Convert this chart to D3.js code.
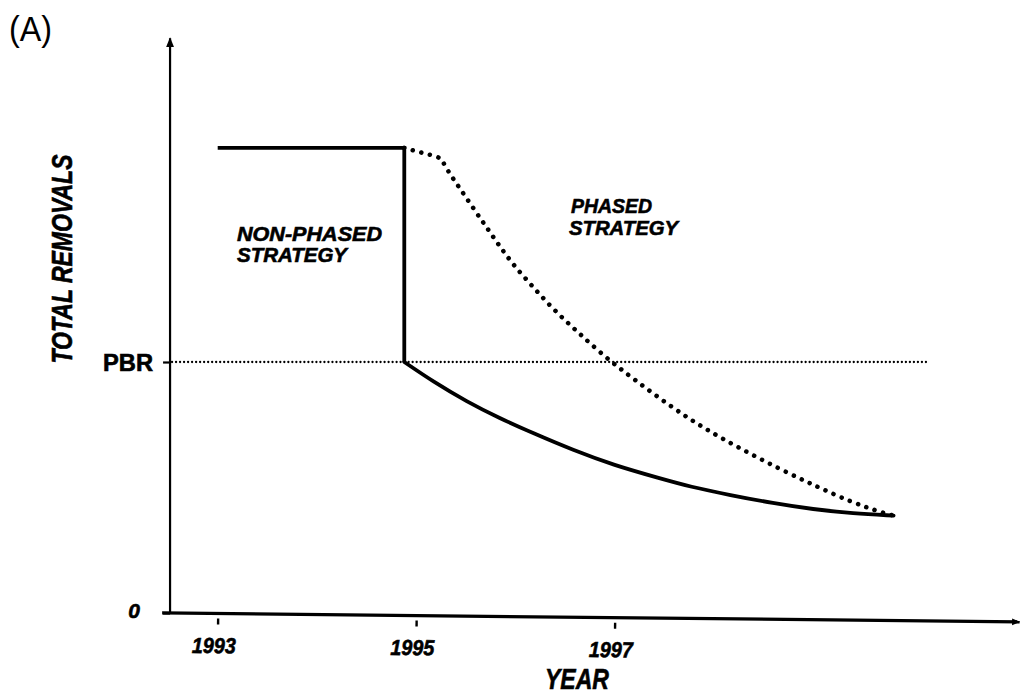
<!DOCTYPE html>
<html>
<head>
<meta charset="utf-8">
<script src="https://cdn.jsdelivr.net/npm/d3@7"></script>
<style>
  html, body { margin: 0; padding: 0; background: #fff; }
  svg { display: block; }
  text { font-family: "Liberation Sans", Arial, Helvetica, sans-serif; fill: #000; }
</style>
</head>
<body>
<svg id="chart" width="1023" height="694"></svg>
<script>
// ---- data ----
const yearTicks = [1993, 1995, 1997];
const yearTickLabels = ["1993", "1995", "1997"];
const removalTicks = [0, 100];
const removalTickLabels = ["0", "PBR"];
const pbrLevel = 100;
const pbrLineYears = [1992.54, 2000.16];
const axisYearExtent = [1992.44, 2001.08];
const axisYearOrigin = 1992.52;
const axisRemovalTop = 229;

// non-phased strategy: full removals until 1995, then an immediate drop to PBR and a decline
const nonPhasedStepYears = [1993, 1994.88, 1994.88];
const nonPhasedStepRemovals = [185.3, 185.3, 100];
const nonPhasedDeclineYears = [1994.88, 1995.17, 1995.51, 1995.84, 1996.18, 1996.58, 1996.99,
  1997.46, 1997.76, 1998.16, 1998.60, 1999.00, 1999.40, 1999.81];
const nonPhasedDeclineRemovals = [100, 92.2, 84.2, 77.6, 71.6, 64.9, 58.9,
  53.6, 50.3, 47.0, 43.7, 41.3, 39.7, 38.8];

// phased strategy: gradual reduction after 1995
const phasedYears = [1994.88, 1995.06, 1995.22, 1995.26, 1995.32, 1995.44, 1995.58, 1995.71, 1995.84,
  1995.98, 1996.18, 1996.38, 1996.62, 1996.89, 1997.19, 1997.56, 1997.89, 1998.26, 1998.67,
  1999.04, 1999.40, 1999.71, 1999.81];
const phasedRemovals = [185.3, 183.3, 181.8, 180.6, 176.0, 169.2, 161.0, 153.6, 146.2,
  138.6, 129.8, 121.0, 112.2, 102.4, 93.2, 82.4, 73.8, 65.6, 57.2,
  50.3, 43.9, 39.8, 38.8];

// ---- scales ----
const svg = d3.select("#chart");
const x = d3.scaleLinear().domain([1993, 1997]).range([217.7, 614.7]);
const y = d3.scaleLinear().domain([0, 100]).range([613, 362]);

const defs = svg.append("defs");
defs.append("marker")
  .attr("id", "arrow")
  .attr("viewBox", "0 0 10 10")
  .attr("refX", 9).attr("refY", 5)
  .attr("markerWidth", 4.5).attr("markerHeight", 4.5)
  .attr("markerUnits", "strokeWidth")
  .attr("orient", "auto")
  .append("path").attr("d", "M0,1 L10,5 L0,9 Z").attr("fill", "#000");
defs.append("marker")
  .attr("id", "arrowSmall")
  .attr("viewBox", "0 0 10 10")
  .attr("refX", 9).attr("refY", 5)
  .attr("markerWidth", 2.6).attr("markerHeight", 2.6)
  .attr("markerUnits", "strokeWidth")
  .attr("orient", "auto")
  .append("path").attr("d", "M0,1 L10,5 L0,9 Z").attr("fill", "#000");

// heavier ink for the bold lettering
const heavy = sel => sel.attr("stroke", "#000").attr("stroke-width", 0.6);

// ---- panel label ----
svg.append("text")
  .attr("x", 9).attr("y", 41)
  .style("font-size", "35px")
  .attr("textLength", 43).attr("lengthAdjust", "spacingAndGlyphs")
  .text("(A)");

// ---- y axis ----
const yAxis = d3.axisLeft(y)
  .tickValues(removalTicks)
  .tickFormat((d, i) => removalTickLabels[i])
  .tickSize(7)
  .tickPadding(10);
const gy = svg.append("g")
  .attr("transform", `translate(${x(axisYearOrigin)},0)`)
  .call(yAxis);
gy.select(".domain").remove();
gy.selectAll(".tick line").attr("stroke", "#000").attr("stroke-width", 2.2);
gy.selectAll(".tick text")
  .attr("fill", "#000")
  .call(heavy)
  .style("font-weight", "bold")
  .style("font-style", (d, i) => i === 0 ? "italic" : "normal")
  .style("font-size", (d, i) => i === 0 ? "21px" : "23px")
  .attr("textLength", (d, i) => i === 0 ? null : 50)
  .attr("lengthAdjust", "spacingAndGlyphs")
  .attr("dx", (d, i) => i === 0 ? -13 : 0)
  .attr("dy", (d, i) => i === 0 ? "0.2em" : "0.38em");

gy.append("line")
  .attr("x1", 0).attr("x2", 0)
  .attr("y1", y(0)).attr("y2", y(axisRemovalTop))
  .attr("stroke", "#000").attr("stroke-width", 2.2)
  .attr("marker-end", "url(#arrow)");

// ---- x axis ----
const xAxis = d3.axisBottom(x)
  .tickValues(yearTicks)
  .tickFormat((d, i) => yearTickLabels[i])
  .tickSize(11)
  .tickPadding(10);
const gx = svg.append("g")
  .attr("transform", `translate(0,${y(0)}) rotate(0.6 ${x(axisYearOrigin)} 0)`)
  .call(xAxis);
gx.select(".domain").remove();
gx.selectAll(".tick line")
  .attr("y1", 5)
  .attr("stroke", "#000").attr("stroke-width", 2.4);
gx.selectAll(".tick text")
  .attr("fill", "#000")
  .call(heavy)
  .attr("dx", -4)
  .attr("dy", "0.85em")
  .style("font-weight", "bold")
  .style("font-style", "italic")
  .style("font-size", "22px")
  .attr("textLength", 44)
  .attr("lengthAdjust", "spacingAndGlyphs");
gx.append("line")
  .attr("x1", x(axisYearExtent[0])).attr("x2", x(axisYearExtent[1]))
  .attr("y1", 0).attr("y2", 0)
  .attr("stroke", "#000").attr("stroke-width", 3.2)
  .attr("marker-end", "url(#arrowSmall)");

// ---- axis titles ----
svg.append("text")
  .attr("x", 577).attr("y", 689)
  .attr("text-anchor", "middle")
  .call(heavy)
  .style("font-size", "29px").style("font-weight", "bold").style("font-style", "italic")
  .attr("textLength", 64).attr("lengthAdjust", "spacingAndGlyphs")
  .text("YEAR");

svg.append("text")
  .attr("transform", "translate(72,259) rotate(-90)")
  .attr("text-anchor", "middle")
  .call(heavy)
  .style("font-size", "29px").style("font-weight", "bold").style("font-style", "italic")
  .attr("textLength", 209).attr("lengthAdjust", "spacingAndGlyphs")
  .text("TOTAL REMOVALS");

// ---- PBR reference line ----
svg.append("line")
  .attr("x1", x(pbrLineYears[0])).attr("x2", x(pbrLineYears[1]))
  .attr("y1", y(pbrLevel)).attr("y2", y(pbrLevel))
  .attr("stroke", "#000").attr("stroke-width", 2.3)
  .attr("stroke-linecap", "round")
  .attr("stroke-dasharray", "0.01 4");

// ---- strategy curves ----
const linear = d3.line().x(d => x(d[0])).y(d => y(d[1]));
const smooth = d3.line().x(d => x(d[0])).y(d => y(d[1])).curve(d3.curveBasis);

svg.append("path")
  .datum(phasedYears.map((yr, i) => [yr, phasedRemovals[i]]))
  .attr("d", smooth)
  .attr("fill", "none").attr("stroke", "#000")
  .attr("stroke-width", 4.6)
  .attr("stroke-linecap", "round")
  .attr("stroke-dasharray", "0.01 8.8");

svg.append("path")
  .datum(nonPhasedStepYears.map((yr, i) => [yr, nonPhasedStepRemovals[i]]))
  .attr("d", linear)
  .attr("fill", "none").attr("stroke", "#000")
  .attr("stroke-width", 3.8)
  .attr("stroke-linejoin", "miter");

svg.append("path")
  .datum(nonPhasedDeclineYears.map((yr, i) => [yr, nonPhasedDeclineRemovals[i]]))
  .attr("d", smooth)
  .attr("fill", "none").attr("stroke", "#000")
  .attr("stroke-width", 3.8)
  .attr("stroke-linecap", "round");

// ---- strategy labels ----
const labelStyle = sel => sel.call(heavy)
  .style("font-size", "21px").style("font-weight", "bold").style("font-style", "italic");

svg.append("text").attr("x", 237).attr("y", 241).call(labelStyle)
  .attr("textLength", 145).attr("lengthAdjust", "spacingAndGlyphs").text("NON-PHASED");
svg.append("text").attr("x", 237).attr("y", 262).call(labelStyle)
  .attr("textLength", 110).attr("lengthAdjust", "spacingAndGlyphs").text("STRATEGY");
svg.append("text").attr("x", 571).attr("y", 213).call(labelStyle)
  .attr("textLength", 81).attr("lengthAdjust", "spacingAndGlyphs").text("PHASED");
svg.append("text").attr("x", 569).attr("y", 235).call(labelStyle)
  .attr("textLength", 109).attr("lengthAdjust", "spacingAndGlyphs").text("STRATEGY");
</script>
</body>
</html>
